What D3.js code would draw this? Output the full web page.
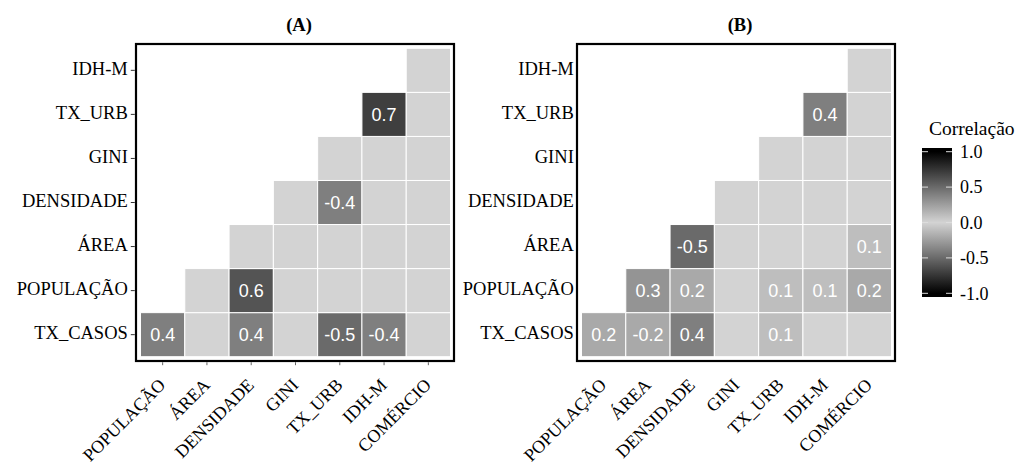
<!DOCTYPE html>
<html>
<head>
<meta charset="utf-8">
<script src="https://cdn.jsdelivr.net/npm/d3@7"></script>
<style>
  body { margin: 0; background: #fff; }
  svg { display: block; }
</style>
</head>
<body>
<div id="chart"></div>
<script>
// variables, bottom row first
const rowVars = ["TX_CASOS", "POPULAÇÃO", "ÁREA", "DENSIDADE", "GINI", "TX_URB", "IDH-M"];
const colVars = ["POPULAÇÃO", "ÁREA", "DENSIDADE", "GINI", "TX_URB", "IDH-M", "COMÉRCIO"];

// lower triangle, row i holds columns i..6 ; null = not significant
const corrA = [
    [0.4, null, 0.4, null, -0.5, -0.4, null],
    [null, 0.6, null, null, null, null],
    [null, null, null, null, null],
    [null, -0.4, null, null],
    [null, null, null],
    [0.7, null],
    [null]
];
const corrB = [
    [0.2, -0.2, 0.4, null, 0.1, null, null],
    [0.3, 0.2, null, 0.1, 0.1, 0.2],
    [-0.5, null, null, null, 0.1],
    [null, null, null, null],
    [null, null, null],
    [0.4, null],
    [null]
];
const panelTitles = ["(A)", "(B)"];
const legendTicks = [1.0, 0.5, 0.0, -0.5, -1.0];

const W = 1019, H = 465;
const serif = "'Liberation Serif', 'Times New Roman', serif";
const sans = "'Liberation Sans', Arial, sans-serif";

// plain hyphen instead of the unicode minus d3 uses
const fmt = v => d3.format(".1f")(v).replace("\u2212", "-");

const color = d3.scaleLinear()
    .domain([-1, 0, 1])
    .range(["#000000", "#d3d3d3", "#000000"]);

const svg = d3.select("#chart").append("svg")
    .attr("width", W)
    .attr("height", H);

svg.append("rect").attr("width", W).attr("height", H).attr("fill", "#fff");

function toCells(corr) {
    let cells = [];
    corr.forEach((row, i) => {
        row.forEach((v, k) => {
            cells.push({ row: rowVars[i], col: colVars[i + k], value: v });
        });
    });
    return cells;
}

function drawPanel(x0, title, corr, ticks) {
    const boxW = 318, boxTop = 44, boxBottom = 361;
    const g = svg.append("g");

    let x = d3.scaleBand()
        .domain(colVars)
        .range([x0 + 4.5, x0 + boxW - 3.5]);
    let y = d3.scaleBand()
        .domain(rowVars.slice().reverse())
        .range([boxTop + 4.3, boxBottom - 4.3]);

    // tiles
    const cells = toCells(corr);
    g.selectAll("rect.cell")
        .data(cells)
        .enter()
        .append("rect")
        .attr("class", "cell")
        .attr("x", d => x(d.col))
        .attr("y", d => y(d.row))
        .attr("width", x.bandwidth())
        .attr("height", y.bandwidth())
        .attr("fill", d => d.value === null ? "#d3d3d3" : color(d.value))
        .attr("stroke", "#fff")
        .attr("stroke-width", 1);

    g.selectAll("text.lab")
        .data(cells.filter(d => d.value !== null))
        .enter()
        .append("text")
        .attr("class", "lab")
        .attr("x", d => x(d.col) + x.bandwidth() / 2)
        .attr("y", d => y(d.row) + y.bandwidth() / 2)
        .attr("dy", "0.36em")
        .attr("text-anchor", "middle")
        .attr("fill", "#fff")
        .style("font-family", sans)
        .style("font-size", "18px")
        .text(d => fmt(d.value));

    // panel border
    g.append("rect")
        .attr("x", x0)
        .attr("y", boxTop)
        .attr("width", boxW)
        .attr("height", boxBottom - boxTop)
        .attr("fill", "none")
        .attr("stroke", "#000")
        .attr("stroke-width", 2.2);

    // y axis
    let yAxis = g.append("g")
        .attr("transform", "translate(" + (x0 - 1.2) + ",0)")
        .call(d3.axisLeft(y).tickSize(ticks ? 4 : 0).tickPadding(ticks ? 3 : 2));
    yAxis.select(".domain").remove();
    yAxis.selectAll("line").attr("stroke", "#333");
    yAxis.selectAll("text")
        .attr("dy", "0.24em")
        .attr("fill", "#000")
        .style("font-family", serif)
        .style("font-size", "18.5px");

    // x axis, labels turned 45 degrees
    let xAxis = g.append("g")
        .attr("transform", "translate(0," + (boxBottom + 1.2) + ")")
        .call(d3.axisBottom(x).tickSize(ticks ? 3 : 0));
    xAxis.select(".domain").remove();
    xAxis.selectAll("line").attr("stroke", "#666");
    xAxis.selectAll("text")
        .attr("x", 0)
        .attr("y", 0)
        .attr("dy", "0.7em")
        .attr("transform", "translate(-5,15) rotate(-45)")
        .attr("text-anchor", "end")
        .attr("fill", "#000")
        .style("font-family", serif)
        .style("font-size", "18px");

    // title
    g.append("text")
        .attr("x", x0 + boxW / 2 + 4)
        .attr("y", 31)
        .attr("text-anchor", "middle")
        .style("font-family", serif)
        .style("font-size", "18.5px")
        .style("font-weight", "bold")
        .text(title);
}

drawPanel(136, panelTitles[0], corrA, true);
drawPanel(577, panelTitles[1], corrB, false);

// legend
const barX = 922, barW = 30, barTop = 148, barBottom = 297;
const ly = d3.scaleLinear()
    .domain([1, -1])
    .range([barTop + 3.7, barBottom - 3.7]);

const grad = svg.append("defs").append("linearGradient")
    .attr("id", "corrGrad")
    .attr("x1", 0).attr("y1", 0).attr("x2", 0).attr("y2", 1);
[1, 0.5, 0, -0.5, -1].forEach(v => {
    grad.append("stop")
        .attr("offset", (ly(v) - barTop) / (barBottom - barTop))
        .attr("stop-color", color(v));
});

svg.append("rect")
    .attr("x", barX)
    .attr("y", barTop)
    .attr("width", barW)
    .attr("height", barBottom - barTop)
    .attr("fill", "url(#corrGrad)");

let legAxis = svg.append("g")
    .attr("transform", "translate(" + (barX + barW) + ",0)")
    .call(d3.axisRight(ly).tickValues(legendTicks).tickFormat(fmt).tickSize(0).tickPadding(8));
legAxis.select(".domain").remove();
legAxis.selectAll("text")
    .attr("fill", "#000")
    .style("font-family", serif)
    .style("font-size", "18px");

svg.append("g")
    .selectAll("g")
    .data(legendTicks)
    .enter()
    .append("g")
    .each(function(d) {
        const gg = d3.select(this);
        gg.append("line")
            .attr("x1", barX).attr("x2", barX + 6)
            .attr("y1", ly(d)).attr("y2", ly(d))
            .attr("stroke", "#ddd").attr("stroke-width", 1);
        gg.append("line")
            .attr("x1", barX + barW - 6).attr("x2", barX + barW)
            .attr("y1", ly(d)).attr("y2", ly(d))
            .attr("stroke", "#ddd").attr("stroke-width", 1);
    });

svg.append("text")
    .attr("x", 929)
    .attr("y", 135)
    .style("font-family", serif)
    .style("font-size", "19.5px")
    .text("Correlação");
</script>
</body>
</html>
